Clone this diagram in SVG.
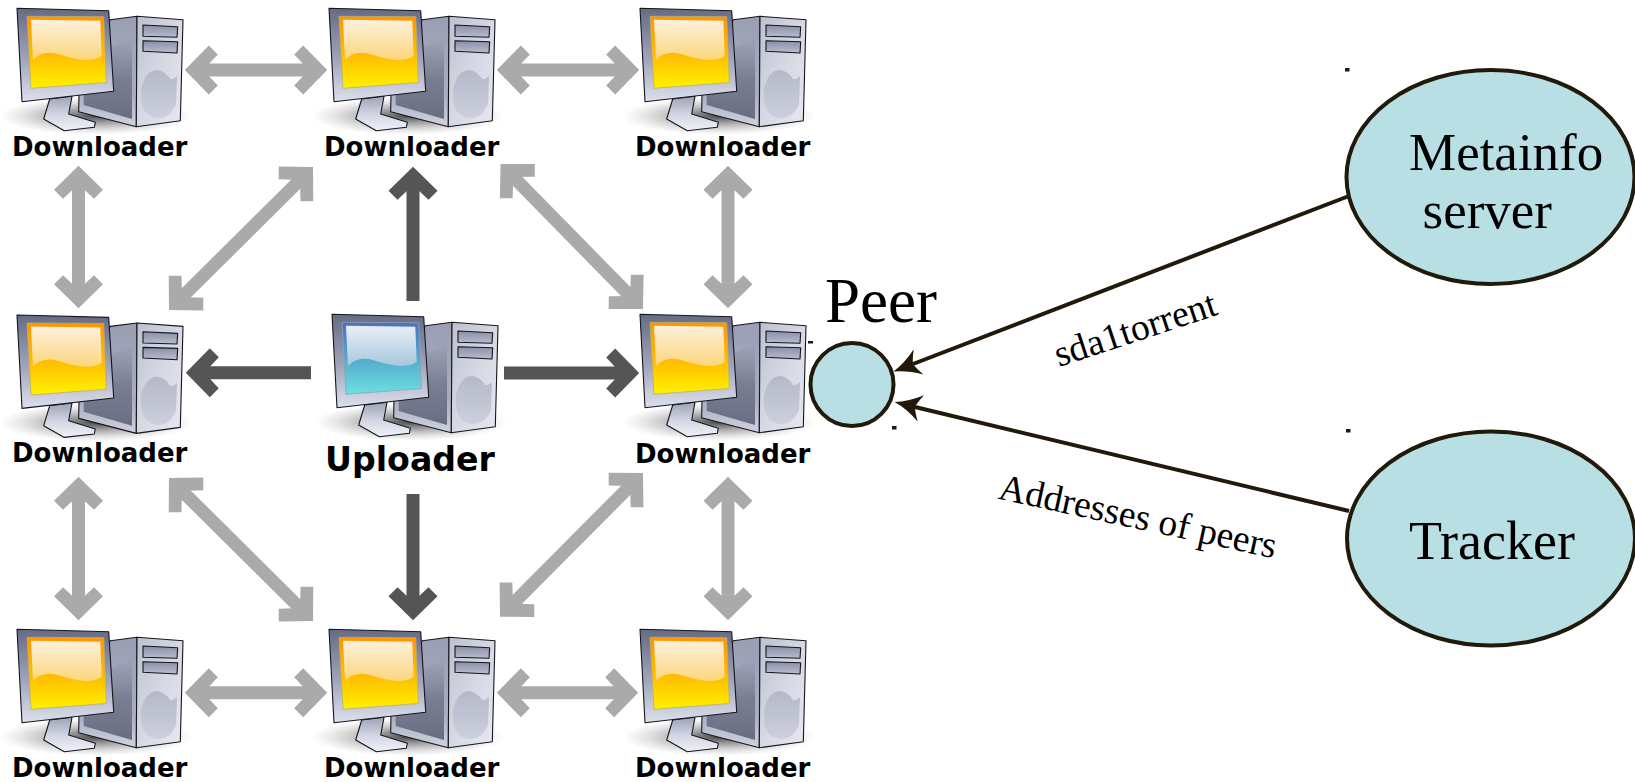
<svg xmlns="http://www.w3.org/2000/svg" width="1635" height="782" viewBox="0 0 1635 782">
<style>
.dl{font:bold 26px "DejaVu Sans",sans-serif;fill:#000}
.ul{font:bold 33.2px "DejaVu Sans",sans-serif;fill:#000}
.sf{font-family:"Liberation Serif","Times New Roman",serif;fill:#000}
.big{font-size:53px}
.lbl{font-size:37.5px}
.node{fill:#b8dfe3;stroke:#21190a;stroke-width:4}
.light{fill:none;stroke:#aaa;stroke-width:13;marker-start:url(#gh);marker-end:url(#gh)}
.dark{fill:none;stroke:#555;stroke-width:13;marker-end:url(#dh)}
.link{fill:none;stroke:#21190a;stroke-width:4;marker-end:url(#bh)}
.dot{fill:#21190a}
.edge{stroke:#15151c;stroke-width:1.1;stroke-linejoin:round}
</style>
<defs>
<marker id="gh" markerUnits="userSpaceOnUse" orient="auto-start-reverse" markerWidth="80" markerHeight="80" viewBox="-40 -40 80 80" refX="0" refY="0"><path fill="#aaa" d="M9.2,0L-14.800,-24.500L-23.800,-15.500L-9.200,0L-23.800,15.500L-14.800,24.500Z"/></marker>
<marker id="dh" markerUnits="userSpaceOnUse" orient="auto" markerWidth="80" markerHeight="80" viewBox="-40 -40 80 80" refX="0" refY="0"><path fill="#555" d="M9.2,0L-14.800,-24.500L-23.800,-15.500L-9.200,0L-23.800,15.500L-14.800,24.500Z"/></marker>
<marker id="bh" markerUnits="userSpaceOnUse" orient="auto" markerWidth="60" markerHeight="60" viewBox="-30 -30 60 60" refX="0" refY="0"><path fill="#21190a" d="M21,0Q8,3.500 -6,13.500Q-1,4.500 0,0Q-1,-4.500 -6,-13.500Q8,-3.500 21,0Z"/></marker>
<radialGradient id="shadow"><stop offset="0" stop-color="#333" stop-opacity=".9"/><stop offset=".5" stop-color="#777" stop-opacity=".5"/><stop offset="1" stop-color="#aaa" stop-opacity="0"/></radialGradient>
<linearGradient id="frame" x1="0" y1="0" x2="0" y2="1"><stop offset="0" stop-color="#666b84"/><stop offset=".55" stop-color="#a0a5bc"/><stop offset="1" stop-color="#dde0ec"/></linearGradient>
<linearGradient id="side" x1="0" y1="0" x2="0" y2="1"><stop offset="0" stop-color="#9a9eb3"/><stop offset=".7" stop-color="#a9adbf"/><stop offset="1" stop-color="#cfd2de"/></linearGradient>
<linearGradient id="panel" x1="0" y1="0" x2="0" y2="1"><stop offset="0" stop-color="#6b6f84" stop-opacity="0"/><stop offset=".5" stop-color="#6b6f84" stop-opacity=".75"/><stop offset="1" stop-color="#686c80"/></linearGradient>
<linearGradient id="front" x1="0" y1="0" x2="1" y2="1"><stop offset="0" stop-color="#bcc0d0"/><stop offset=".5" stop-color="#d6d8e4"/><stop offset="1" stop-color="#e6e8f2"/></linearGradient>
<linearGradient id="disc" x1="0" y1="0" x2="0" y2="1"><stop offset="0" stop-color="#b4b8c8"/><stop offset="1" stop-color="#ccd0dc"/></linearGradient>
<linearGradient id="bay" x1="0" y1="0" x2="0" y2="1"><stop offset="0" stop-color="#8a8ea6"/><stop offset="1" stop-color="#b9bdcd"/></linearGradient>
<linearGradient id="stand" x1="0" y1="0" x2="0" y2="1"><stop offset="0" stop-color="#9ea2b8"/><stop offset=".55" stop-color="#d4d7e4"/><stop offset="1" stop-color="#f0f1f8"/></linearGradient>
<linearGradient id="yel" x1="0" y1="0" x2="0" y2="1"><stop offset="0" stop-color="#ff9500"/><stop offset=".55" stop-color="#ffbe00"/><stop offset="1" stop-color="#fff200"/></linearGradient>
<linearGradient id="yelh" x1="0" y1="0" x2="0" y2="1"><stop offset="0" stop-color="#fdf0dc"/><stop offset="1" stop-color="#fbd67c"/></linearGradient>
<linearGradient id="blu" x1="0" y1="0" x2="0" y2="1"><stop offset="0" stop-color="#4f6fbe"/><stop offset=".55" stop-color="#57aecf"/><stop offset="1" stop-color="#6cdfe0"/></linearGradient>
<linearGradient id="bluh" x1="0" y1="0" x2="0" y2="1"><stop offset="0" stop-color="#eaeef8"/><stop offset="1" stop-color="#a6c8dc"/></linearGradient>
<g id="body">
<ellipse cx="96" cy="116" rx="97" ry="19" fill="url(#shadow)"/>
<path class="edge" fill="url(#side)" d="M110.300,19.700L137,16.300L136.300,126.700L78.700,111.700L79,92Z"/>
<path fill="url(#panel)" d="M84,60L132,38L132,119L83.700,105Z"/>
<path class="edge" fill="url(#front)" d="M137,16.300L183,19.700L180.300,120.700L136.300,126.700Z"/>
<path fill="url(#disc)" d="M141,89Q146,69 158,70Q166,72 170,79Q174,80 177,76L176,104Q170,118 158,118Q143,117 141,100Z"/>
<path class="edge" fill="url(#bay)" d="M143,25L177.700,26.700L177,37.300L143,36.300Z"/>
<path class="edge" fill="url(#bay)" d="M143,40.700L177.700,41.700L177,53L143,51.300Z"/>
<path class="edge" fill="url(#stand)" d="M49.700,99L72,96.300L68.700,114L95.300,122.300L94.300,127.300L64.300,130.700L43.700,119Z"/>
<path class="edge" fill="url(#frame)" d="M17,8.300L108.700,10.700L113.700,91.300L22,101.700Z"/>
</g>
<g id="scr-y"><path fill="url(#yel)" stroke="#b9ae70" stroke-width=".8" d="M27,16.300L103.700,16.700L106.300,82.500L31,88.300Z"/><path fill="url(#yelh)" d="M31,19.700L100.300,20.700L101.700,55.700Q96,60 86,60Q72,59 58,54Q42,50 33,60Z"/></g>
<g id="scr-b"><path fill="url(#blu)" stroke="#8aa6ac" stroke-width=".8" d="M27,16.300L103.700,16.700L106.300,82.500L31,88.300Z"/><path fill="url(#bluh)" d="M31,19.700L100.300,20.700L101.700,55.700Q96,60 86,60Q72,59 58,54Q42,50 33,60Z"/></g>
</defs>
<rect width="1635" height="782" fill="#fff"/>
<g id="dl-1-1"><use href="#body"/><use href="#scr-y"/><text class="dl" x="12" y="155.500">Downloader</text></g>
<g id="dl-1-2" transform="translate(312 0)"><use href="#body"/><use href="#scr-y"/><text class="dl" x="12" y="155.500">Downloader</text></g>
<g id="dl-1-3" transform="translate(623 0)"><use href="#body"/><use href="#scr-y"/><text class="dl" x="12" y="155.500">Downloader</text></g>
<g id="dl-2-1" transform="translate(0 306.700)"><use href="#body"/><use href="#scr-y"/><text class="dl" x="12" y="155.800">Downloader</text></g>
<g id="uploader" transform="translate(315 306)"><use href="#body"/><use href="#scr-b"/><text class="ul" x="10" y="165">Uploader</text></g>
<g id="dl-2-3" transform="translate(623 306)"><use href="#body"/><use href="#scr-y"/><text class="dl" x="12" y="156.500">Downloader</text></g>
<g id="dl-3-1" transform="translate(0 621)"><use href="#body"/><use href="#scr-y"/><text class="dl" x="12" y="155.500">Downloader</text></g>
<g id="dl-3-2" transform="translate(312 621)"><use href="#body"/><use href="#scr-y"/><text class="dl" x="12" y="155.500">Downloader</text></g>
<g id="dl-3-3" transform="translate(623 621)"><use href="#body"/><use href="#scr-y"/><text class="dl" x="12" y="155.500">Downloader</text></g>
<g id="peer"><rect class="dot" x="808" y="341" width="5" height="2.500"/><rect class="dot" x="892" y="426" width="4.500" height="3.500"/><circle class="node" cx="852" cy="384.500" r="41.500"/><text class="sf" x="825" y="322" font-size="63">Peer</text></g>
<g id="metainfo"><rect class="dot" x="1345" y="68" width="4.500" height="3.500"/><ellipse class="node" cx="1490.500" cy="177" rx="144" ry="107"/><text class="sf big" x="1409" y="170">Metainfo</text><text class="sf big" x="1422.500" y="227.500">server</text></g>
<g id="tracker"><rect class="dot" x="1346" y="429" width="4.500" height="3.500"/><ellipse class="node" cx="1491" cy="538.500" rx="144" ry="107"/><text class="sf" font-size="54" x="1409" y="559">Tracker</text></g>
<text class="sf lbl" transform="translate(1059 367) rotate(-18.200)">sda1torrent</text>
<text class="sf lbl" transform="translate(997 498.500) rotate(12.200)">Addresses of peers</text>
<g id="connectors">
<line class="light" x1="194" y1="70" x2="318" y2="70"/>
<line class="light" x1="506" y1="70" x2="630" y2="70"/>
<line class="light" x1="194" y1="692.700" x2="318" y2="692.700"/>
<line class="light" x1="506" y1="692.700" x2="629" y2="692.700"/>
<line class="light" x1="78.500" y1="175" x2="78.500" y2="299"/>
<line class="light" x1="78.500" y1="486" x2="78.500" y2="611"/>
<line class="light" x1="728" y1="175" x2="728" y2="299"/>
<line class="light" x1="728" y1="486" x2="728" y2="611"/>
<line class="light" x1="306.500" y1="173.500" x2="175.500" y2="303.500"/>
<line class="light" x1="507" y1="170.500" x2="636.500" y2="302.500"/>
<line class="light" x1="175.500" y1="484.500" x2="306.500" y2="614.500"/>
<line class="light" x1="636.500" y1="479.500" x2="506.500" y2="610.200"/>
<line class="dark" x1="413" y1="301" x2="413" y2="176"/>
<line class="dark" x1="311" y1="372.700" x2="195" y2="372.700"/>
<line class="dark" x1="504" y1="373" x2="630" y2="373"/>
<line class="dark" x1="413" y1="494" x2="413" y2="611"/>
<line class="link" x1="1349" y1="196" x2="913" y2="364"/>
<line class="link" x1="1349" y1="511" x2="915" y2="407"/>
</g>
</svg>
